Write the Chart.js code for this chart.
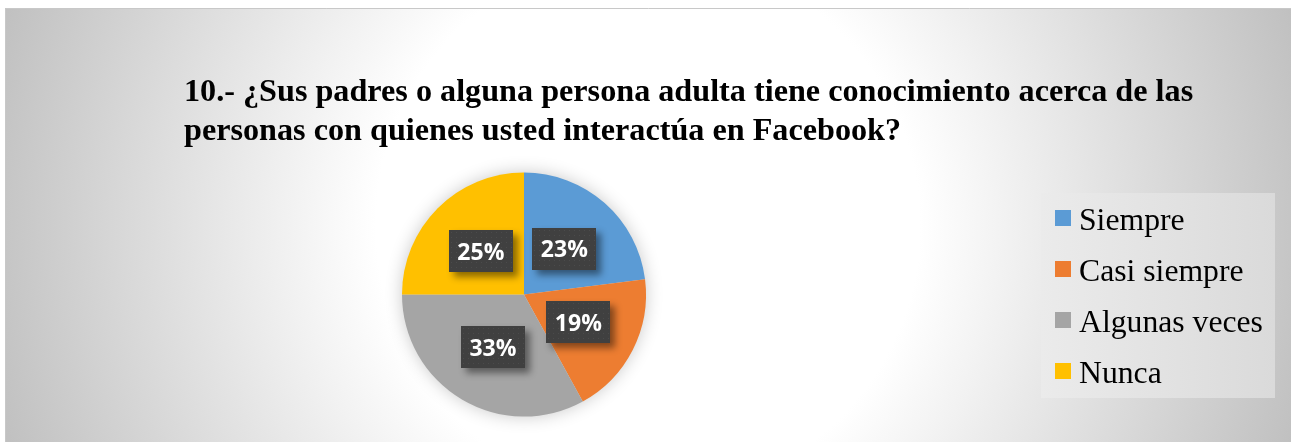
<!DOCTYPE html>
<html>
<head>
<meta charset="utf-8">
<script src="https://cdn.jsdelivr.net/npm/chart.js@4.4.0/dist/chart.umd.min.js"></script>
<style>
  html, body { margin: 0; padding: 0; background: #ffffff; }
  canvas { display: block; }
</style>
</head>
<body>
<canvas id="c" width="1291" height="442"></canvas>
<script>
// ---- data ----
const titleLines = [
  '10.- ¿Sus padres o alguna persona adulta tiene conocimiento acerca de las',
  'personas con quienes usted interactúa en Facebook?'
];
const categories = ['Siempre', 'Casi siempre', 'Algunas veces', 'Nunca'];
const values = [23, 19, 33, 25];
const sliceColors = ['#5B9BD5', '#ED7D31', '#A5A5A5', '#FFC000'];

// ---- plugins ----
const backgroundPlugin = {
  id: 'bg',
  beforeDraw(chart) {
    const ctx = chart.ctx;
    const W = chart.width, H = chart.height;
    ctx.save();
    ctx.fillStyle = '#ffffff';
    ctx.fillRect(0, 0, W, H);
    const g = ctx.createRadialGradient(648, 225, 0, 648, 225, 680);
    g.addColorStop(0, '#ffffff');
    g.addColorStop(0.4, '#ffffff');
    g.addColorStop(1, '#c0c0c0');
    ctx.fillStyle = g;
    ctx.fillRect(5, 8, W - 5, H - 8);
    ctx.strokeStyle = '#c8c8c8';
    ctx.lineWidth = 1;
    ctx.beginPath();
    ctx.moveTo(5.5, H);
    ctx.lineTo(5.5, 8.5);
    ctx.lineTo(W, 8.5);
    ctx.stroke();
    ctx.restore();
  }
};

const pieHaloPlugin = {
  id: 'halo',
  beforeDatasetsDraw(chart) {
    const arc = chart.getDatasetMeta(0).data[0];
    if (!arc) return;
    const ctx = chart.ctx;
    ctx.save();
    ctx.shadowColor = 'rgba(0,0,0,0.24)';
    ctx.shadowBlur = 18;
    ctx.fillStyle = '#dddddd';
    ctx.beginPath();
    ctx.arc(arc.x, arc.y, arc.outerRadius - 1, 0, Math.PI * 2);
    ctx.fill();
    ctx.restore();
  }
};

let dotPattern = null;
function getPattern(ctx) {
  if (dotPattern) return dotPattern;
  const pc = document.createElement('canvas');
  pc.width = 5; pc.height = 5;
  const p = pc.getContext('2d');
  p.fillStyle = '#404040';
  p.fillRect(0, 0, 5, 5);
  p.fillStyle = '#4b4b4b';
  p.fillRect(2, 2, 1, 1);
  dotPattern = ctx.createPattern(pc, 'repeat');
  return dotPattern;
}

const labelPlugin = {
  id: 'sliceLabels',
  afterDatasetsDraw(chart) {
    const ctx = chart.ctx;
    const meta = chart.getDatasetMeta(0);
    const data = chart.data.datasets[0].data;
    const total = data.reduce((a, b) => a + b, 0);
    const bw = 64, bh = 42;
    meta.data.forEach((arc, i) => {
      const pt = arc.tooltipPosition();
      const txt = Math.round(data[i] / total * 100) + '%';
      const x = Math.round(pt.x - bw / 2), y = Math.round(pt.y - bh / 2);
      ctx.save();
      ctx.shadowColor = 'rgba(0,0,0,0.45)';
      ctx.shadowBlur = 7;
      ctx.shadowOffsetX = 5;
      ctx.shadowOffsetY = 5;
      ctx.fillStyle = '#404040';
      ctx.fillRect(x, y, bw, bh);
      ctx.restore();
      ctx.save();
      ctx.fillStyle = getPattern(ctx);
      ctx.translate(x, y);
      ctx.fillRect(0, 0, bw, bh);
      ctx.restore();
      ctx.save();
      ctx.fillStyle = '#ffffff';
      ctx.font = 'bold 23px "Open Sans"';
      ctx.textAlign = 'center';
      ctx.textBaseline = 'alphabetic';
      ctx.fillText(txt, pt.x, pt.y + 8.5);
      ctx.restore();
    });
  }
};

const legendPlugin = {
  id: 'customLegend',
  afterDraw(chart) {
    const ctx = chart.ctx;
    const bx = 1041, by = 193, bw = 234, bh = 205;
    ctx.save();
    const g = ctx.createLinearGradient(bx, 0, bx + bw, 0);
    g.addColorStop(0, '#ebebeb');
    g.addColorStop(1, '#dadada');
    ctx.fillStyle = g;
    ctx.fillRect(bx, by, bw, bh);
    const labels = chart.data.labels;
    const colors = chart.data.datasets[0].backgroundColor;
    ctx.font = '31.7px "Liberation Serif"';
    ctx.textAlign = 'left';
    ctx.textBaseline = 'alphabetic';
    labels.forEach((lab, i) => {
      const cy = 218.3 + i * 51;
      ctx.fillStyle = colors[i];
      ctx.fillRect(1055, Math.round(cy - 8), 16, 16);
      ctx.fillStyle = '#000000';
      ctx.fillText(lab, 1079, cy + 11.5);
    });
    ctx.restore();
  }
};

const titlePlugin = {
  id: 'customTitle',
  afterDraw(chart) {
    const ctx = chart.ctx;
    ctx.save();
    ctx.fillStyle = '#000000';
    ctx.font = 'bold 32.2px "Liberation Serif"';
    ctx.textAlign = 'left';
    ctx.textBaseline = 'alphabetic';
    ctx.fillText(titleLines[0], 184, 101);
    ctx.fillText(titleLines[1], 184, 139.5);
    ctx.restore();
  }
};

new Chart(document.getElementById('c'), {
  type: 'pie',
  data: {
    labels: categories,
    datasets: [{
      data: values,
      backgroundColor: sliceColors,
      borderWidth: 0
    }]
  },
  options: {
    responsive: false,
    animation: false,
    devicePixelRatio: 1,
    layout: { padding: { left: 402, right: 645, top: 172, bottom: 25 } },
    plugins: {
      legend: { display: false },
      title: { display: false },
      tooltip: { enabled: false }
    }
  },
  plugins: [backgroundPlugin, pieHaloPlugin, labelPlugin, legendPlugin, titlePlugin]
});
</script>
</body>
</html>
